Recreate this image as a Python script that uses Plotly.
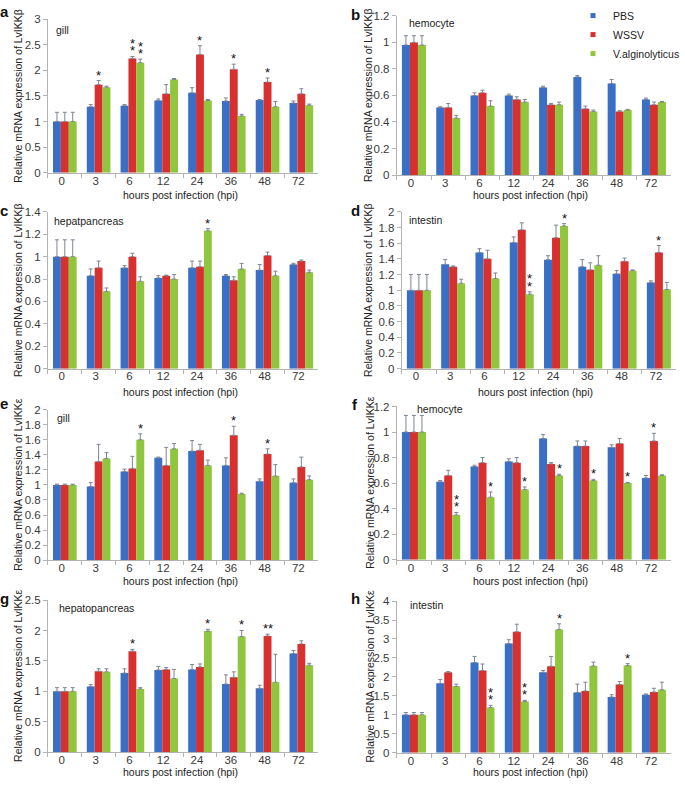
import plotly.graph_objects as go

# ---------------- data ----------------
hpi = ["0", "3", "6", "12", "24", "36", "48", "72"]
groups = ["PBS", "WSSV", "V.alginolyticus"]

# a: gill, LvIKKβ
a_pbs = [1.00, 1.29, 1.31, 1.41, 1.56, 1.40, 1.42, 1.36]
a_pbs_sd = [0.18, 0.04, 0.02, 0.03, 0.10, 0.06, 0.01, 0.04]
a_wssv = [1.00, 1.72, 2.23, 1.54, 2.31, 2.02, 1.77, 1.54]
a_wssv_sd = [0.18, 0.08, 0.04, 0.18, 0.17, 0.10, 0.08, 0.10]
a_valg = [1.00, 1.67, 2.15, 1.82, 1.41, 1.11, 1.29, 1.32]
a_valg_sd = [0.18, 0.02, 0.07, 0.02, 0.02, 0.03, 0.10, 0.02]
a_stars = [("3", 1, "*"), ("6", 1, ":"), ("6", 2, ":"), ("24", 1, "*"), ("36", 1, "*"), ("48", 1, "*")]

# b: hemocyte, LvIKKβ
b_pbs = [0.98, 0.51, 0.60, 0.60, 0.66, 0.74, 0.69, 0.57]
b_pbs_sd = [0.07, 0.005, 0.02, 0.01, 0.01, 0.01, 0.03, 0.01]
b_wssv = [1.00, 0.51, 0.62, 0.57, 0.53, 0.50, 0.48, 0.53]
b_wssv_sd = [0.05, 0.03, 0.02, 0.02, 0.01, 0.02, 0.005, 0.02]
b_valg = [0.98, 0.43, 0.52, 0.55, 0.53, 0.48, 0.49, 0.55]
b_valg_sd = [0.07, 0.02, 0.04, 0.02, 0.02, 0.01, 0.005, 0.005]
b_stars = []

# c: hepatpancreas, LvIKKβ
c_pbs = [1.00, 0.83, 0.90, 0.81, 0.90, 0.83, 0.88, 0.93]
c_pbs_sd = [0.15, 0.06, 0.02, 0.02, 0.06, 0.01, 0.05, 0.01]
c_wssv = [1.00, 0.90, 1.00, 0.83, 0.91, 0.79, 1.01, 0.96]
c_wssv_sd = [0.15, 0.06, 0.03, 0.005, 0.05, 0.03, 0.03, 0.01]
c_valg = [1.00, 0.69, 0.78, 0.80, 1.23, 0.89, 0.83, 0.86]
c_valg_sd = [0.15, 0.03, 0.04, 0.04, 0.02, 0.05, 0.04, 0.02]
c_stars = [("24", 2, "*")]

# d: intestin, LvIKKβ
d_pbs = [1.00, 1.33, 1.48, 1.61, 1.39, 1.30, 1.21, 1.10]
d_pbs_sd = [0.20, 0.06, 0.05, 0.07, 0.05, 0.09, 0.04, 0.02]
d_wssv = [1.00, 1.30, 1.40, 1.77, 1.67, 1.26, 1.37, 1.48]
d_wssv_sd = [0.20, 0.01, 0.11, 0.09, 0.16, 0.09, 0.04, 0.09]
d_valg = [1.00, 1.09, 1.15, 0.95, 1.82, 1.32, 1.25, 1.01]
d_valg_sd = [0.20, 0.05, 0.07, 0.03, 0.03, 0.12, 0.01, 0.09]
d_stars = [("12", 2, ":"), ("24", 2, "*"), ("72", 1, "*")]

# e: gill, LvIKKε
e_pbs = [1.00, 0.98, 1.18, 1.36, 1.45, 1.26, 1.05, 1.03]
e_pbs_sd = [0.01, 0.05, 0.03, 0.01, 0.14, 0.10, 0.03, 0.05]
e_wssv = [1.00, 1.31, 1.22, 1.26, 1.46, 1.66, 1.41, 1.24]
e_wssv_sd = [0.01, 0.23, 0.16, 0.24, 0.08, 0.12, 0.07, 0.13]
e_valg = [1.00, 1.35, 1.60, 1.48, 1.26, 0.88, 1.12, 1.07]
e_valg_sd = [0.01, 0.08, 0.08, 0.07, 0.07, 0.01, 0.15, 0.05]
e_stars = [("6", 2, "*"), ("36", 1, "*"), ("48", 1, "*")]

# f: hemocyte, LvIKKε
f_pbs = [1.00, 0.61, 0.73, 0.77, 0.95, 0.89, 0.88, 0.64]
f_pbs_sd = [0.13, 0.01, 0.01, 0.02, 0.03, 0.04, 0.02, 0.02]
f_wssv = [1.00, 0.66, 0.76, 0.76, 0.75, 0.89, 0.91, 0.93]
f_wssv_sd = [0.13, 0.04, 0.04, 0.04, 0.01, 0.04, 0.04, 0.06]
f_valg = [1.00, 0.35, 0.49, 0.55, 0.66, 0.62, 0.60, 0.66]
f_valg_sd = [0.13, 0.02, 0.04, 0.02, 0.01, 0.01, 0.005, 0.005]
f_stars = [("3", 2, ":"), ("6", 2, "*"), ("12", 2, "*"), ("24", 2, "*"), ("36", 2, "*"),
           ("48", 2, "*"), ("72", 1, "*")]

# g: hepatopancreas, LvIKKε
g_pbs = [1.00, 1.08, 1.30, 1.35, 1.36, 1.12, 1.05, 1.62]
g_pbs_sd = [0.06, 0.03, 0.07, 0.06, 0.08, 0.15, 0.05, 0.05]
g_wssv = [1.00, 1.33, 1.66, 1.36, 1.40, 1.23, 1.91, 1.78]
g_wssv_sd = [0.06, 0.04, 0.03, 0.03, 0.05, 0.09, 0.03, 0.05]
g_valg = [1.00, 1.32, 1.04, 1.21, 1.99, 1.90, 1.15, 1.43]
g_valg_sd = [0.06, 0.05, 0.02, 0.15, 0.03, 0.10, 0.46, 0.03]
g_stars = [("6", 1, "*"), ("24", 2, "*"), ("36", 2, "*"), ("48", 1, "**")]

# h: intestin, LvIKKε
h_pbs = [1.00, 1.83, 2.38, 2.88, 2.12, 1.59, 1.47, 1.53]
h_pbs_sd = [0.06, 0.10, 0.16, 0.10, 0.05, 0.22, 0.06, 0.02]
h_wssv = [1.00, 2.12, 2.17, 3.19, 2.28, 1.63, 1.80, 1.60]
h_wssv_sd = [0.06, 0.02, 0.17, 0.20, 0.26, 0.23, 0.08, 0.10]
h_valg = [1.00, 1.75, 1.19, 1.35, 3.25, 2.29, 2.30, 1.66]
h_valg_sd = [0.06, 0.06, 0.06, 0.03, 0.15, 0.10, 0.05, 0.20]
h_stars = [("6", 2, ":"), ("12", 2, ":"), ("24", 2, "*"), ("48", 2, "*")]

panels = [
    # letter, tissue, gene, ymax, dtick, series, sds, stars
    ("a", "gill", "LvIKKβ", 3.0, 0.5, [a_pbs, a_wssv, a_valg], [a_pbs_sd, a_wssv_sd, a_valg_sd], a_stars),
    ("b", "hemocyte", "LvIKKβ", 1.2, 0.2, [b_pbs, b_wssv, b_valg], [b_pbs_sd, b_wssv_sd, b_valg_sd], b_stars),
    ("c", "hepatpancreas", "LvIKKβ", 1.4, 0.2, [c_pbs, c_wssv, c_valg], [c_pbs_sd, c_wssv_sd, c_valg_sd], c_stars),
    ("d", "intestin", "LvIKKβ", 2.0, 0.2, [d_pbs, d_wssv, d_valg], [d_pbs_sd, d_wssv_sd, d_valg_sd], d_stars),
    ("e", "gill", "LvIKKε", 2.0, 0.2, [e_pbs, e_wssv, e_valg], [e_pbs_sd, e_wssv_sd, e_valg_sd], e_stars),
    ("f", "hemocyte", "LvIKKε", 1.2, 0.2, [f_pbs, f_wssv, f_valg], [f_pbs_sd, f_wssv_sd, f_valg_sd], f_stars),
    ("g", "hepatopancreas", "LvIKKε", 2.5, 0.5, [g_pbs, g_wssv, g_valg], [g_pbs_sd, g_wssv_sd, g_valg_sd], g_stars),
    ("h", "intestin", "LvIKKε", 4.0, 0.5, [h_pbs, h_wssv, h_valg], [h_pbs_sd, h_wssv_sd, h_valg_sd], h_stars),
]

# ---------------- layout geometry (pixels) ----------------
W, H = 685, 786
# plot-area boxes: left, right, top, bottom
boxes = [
    (48.5, 322.0, 13.3, 169.3),
    (401.5, 679.0, 10.0, 171.7),
    (48.5, 322.0, 209.0, 368.3),
    (406.5, 684.0, 209.0, 368.3),
    (48.5, 322.0, 410.0, 562.7),
    (401.5, 679.0, 406.7, 562.3),
    (48.5, 322.0, 603.3, 757.7),
    (401.5, 679.0, 604.3, 758.3),
]
letter_pos = [(4.5, 6), (360, 9), (4.5, 208), (360, 208), (4.5, 404), (359, 405), (4.5, 602), (360, 602)]
title_pos = [(55, 24), (412, 17), (53, 218), (412, 217), (56, 418), (420, 409), (58, 611), (413, 608)]
ytitle_x = [18, 373, 18, 373, 18, 374, 18, 374]
xtitle_y = [191.7, 391.5, 584.2, 777.8]

colors = ["#3a6fc6", "#d7302f", "#8fc63e"]
FONT = "Arial, 'Liberation Sans', sans-serif"
AXIS_COL = "#b3b3b3"
TICK_COL = "#3a3a3a"
BARGAP = 0.3

def px_x(x):
    return x / W

def px_y(y):
    return 1 - y / H

fig = go.Figure()
annotations = []
layout = {}

for i, (letter, tissue, gene, ymax, dtick, series, sds, stars) in enumerate(panels):
    n = i + 1
    xa = "x" if n == 1 else f"x{n}"
    ya = "y" if n == 1 else f"y{n}"
    xkey = "xaxis" if n == 1 else f"xaxis{n}"
    ykey = "yaxis" if n == 1 else f"yaxis{n}"
    l, r, t, b = boxes[i]

    for s, (vals, sd) in enumerate(zip(series, sds)):
        fig.add_trace(go.Bar(
            x=hpi, y=vals, name=groups[s], xaxis=xa, yaxis=ya,
            marker=dict(color=colors[s], line=dict(width=0)),
            error_y=dict(type="data", array=sd, arrayminus=[0] * len(sd), symmetric=False,
                         color="#7d8593", thickness=1, width=2),
            showlegend=False, legendgroup=groups[s],
        ))

    layout[xkey] = dict(
        domain=[px_x(l), px_x(r)], anchor=ya, type="category",
        categoryorder="array", categoryarray=hpi, range=[-0.5, len(hpi) - 0.5],
        showline=True, linecolor=AXIS_COL, linewidth=1,
        ticks="outside", tickson="boundaries", ticklen=4, tickcolor=AXIS_COL,
        showgrid=False, zeroline=False, ticklabelshift=-3, ticklabelstandoff=-3,
        tickfont=dict(family=FONT, size=11.5, color=TICK_COL),
    )
    layout[ykey] = dict(
        domain=[px_y(b), px_y(t)], anchor=xa, range=[0, ymax], tick0=0, dtick=dtick,
        showline=True, linecolor=AXIS_COL, linewidth=1,
        ticks="outside", ticklen=4, tickcolor=AXIS_COL,
        showgrid=False, zeroline=False,
        tickfont=dict(family=FONT, size=11.5, color=TICK_COL),
    )

    # panel letter
    lx, ly = letter_pos[i]
    annotations.append(dict(text=f"<b>{letter}</b>", x=px_x(lx), y=px_y(ly), xref="paper", yref="paper",
                            xanchor="center", yanchor="middle", showarrow=False,
                            font=dict(family=FONT, size=15, color="#111")))
    # tissue label
    tx, ty = title_pos[i]
    annotations.append(dict(text=tissue, x=px_x(tx), y=px_y(ty), xref="paper", yref="paper",
                            xanchor="left", yanchor="middle", showarrow=False,
                            font=dict(family=FONT, size=10.5, color="#222")))
    # y title
    annotations.append(dict(text=f"Relative mRNA expression of {gene}", x=px_x(ytitle_x[i]),
                            y=px_y((t + b) / 2), xref="paper", yref="paper", textangle=-90,
                            xanchor="center", yanchor="middle", showarrow=False,
                            font=dict(family=FONT, size=10.5, color="#222")))
    # x title
    annotations.append(dict(text="hours post infection (hpi)", x=px_x((l + r) / 2 - 3),
                            y=px_y(xtitle_y[i // 2]), xref="paper", yref="paper",
                            xanchor="center", yanchor="middle", showarrow=False,
                            font=dict(family=FONT, size=10.5, color="#222")))

    # significance stars (placed at the category slot within the x-axis domain)
    ncat = len(hpi)
    step = (r - l) / ncat
    bw = step * (1 - BARGAP) / 3
    for (cat, s, mark) in stars:
        k = hpi.index(cat)
        top = series[s][k] + sds[s][k]
        xs = (s - 1) * bw
        if mark == ":":
            shifts = [5.5, 13.0]
            txt = "*"
        else:
            shifts = [5.5]
            txt = mark
        for ysh in shifts:
            annotations.append(dict(text=txt, x=(k + 0.5) / ncat, y=top,
                                    xref=f"{xa} domain", yref=ya,
                                    xshift=xs, yshift=ysh, xanchor="center", yanchor="middle",
                                    showarrow=False, font=dict(family=FONT, size=13, color="#111")))

# legend entries (small square markers, as in the original)
for s, name in enumerate(groups):
    fig.add_trace(go.Scatter(x=[None], y=[None], mode="markers", name=name, legendgroup=name,
                             marker=dict(symbol="square", size=5, color=colors[s]),
                             xaxis="x2", yaxis="y2", showlegend=True, hoverinfo="skip"))

fig.update_layout(
    width=W, height=H,
    margin=dict(l=0, r=0, t=0, b=0),
    paper_bgcolor="white", plot_bgcolor="white",
    barmode="group", bargap=BARGAP, bargroupgap=0,
    annotations=annotations,
    legend=dict(x=px_x(580), y=px_y(-5), xanchor="left", yanchor="top",
                font=dict(family=FONT, size=10.5, color="#222"),
                bgcolor="rgba(0,0,0,0)", itemsizing="trace", tracegroupgap=0),
    font=dict(family=FONT),
    **layout,
)

# remove the browser's default 8px page margin so the 685x786 figure fills the window exactly
fig.write_html("out.html",
               config={"displayModeBar": False},
               post_script="document.body.style.margin='0';document.body.style.overflow='hidden';")
